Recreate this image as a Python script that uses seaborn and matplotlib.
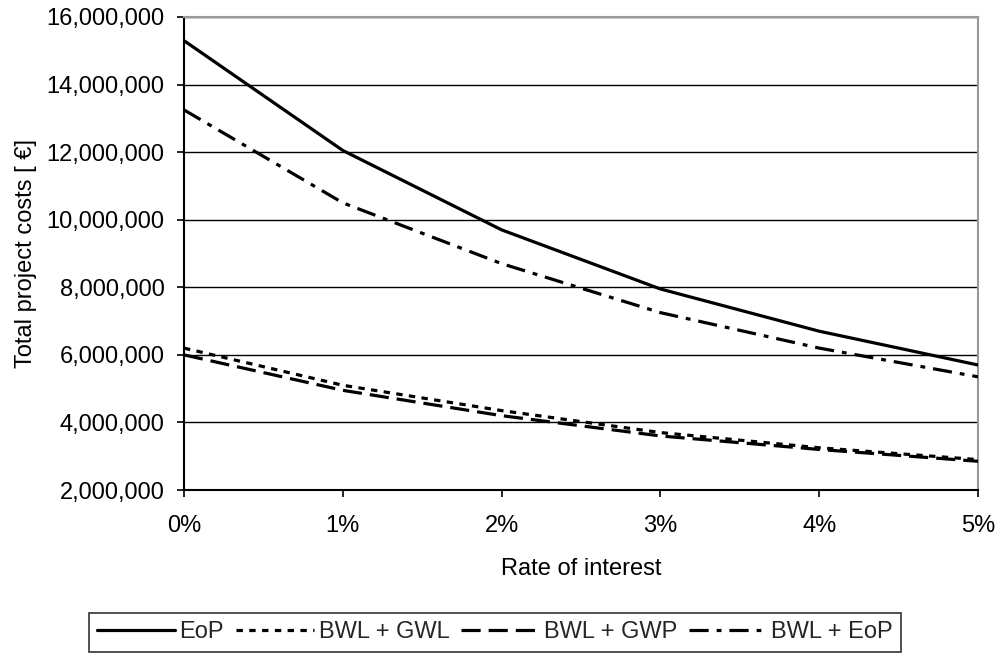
import matplotlib.pyplot as plt
import matplotlib.ticker as mticker
import pandas as pd
import seaborn as sns

# Total project costs per rate of interest
rates = [0, 1, 2, 3, 4, 5]
eop = [15300000, 12050000, 9700000, 7950000, 6700000, 5700000]
bwl_gwl = [6200000, 5100000, 4350000, 3700000, 3250000, 2900000]
bwl_gwp = [6000000, 4950000, 4200000, 3600000, 3200000, 2850000]
bwl_eop = [13250000, 10500000, 8700000, 7250000, 6200000, 5350000]

series_names = ["EoP", "BWL + GWL", "BWL + GWP", "BWL + EoP"]
y_ticks = [2000000, 4000000, 6000000, 8000000, 10000000, 12000000, 14000000, 16000000]
x_ticks = [0, 1, 2, 3, 4, 5]
x_labels = ["0%", "1%", "2%", "3%", "4%", "5%"]

df = pd.DataFrame({"rate": rates, "EoP": eop, "BWL + GWL": bwl_gwl,
                   "BWL + GWP": bwl_gwp, "BWL + EoP": bwl_eop})
df_long = df.melt(id_vars="rate", var_name="series", value_name="cost")

sns.set_theme(style="white")
plt.rcParams["font.family"] = ["Liberation Sans", "DejaVu Sans"]
FS = 17

fig = plt.figure(figsize=(9.99, 6.57), dpi=100)
ax = fig.add_axes([184 / 999, 1 - 490 / 657, (978 - 184) / 999, (490 - 17) / 657])

dash_map = {
    "EoP": "",
    "BWL + GWL": (2, 2),
    "BWL + GWP": (6, 2.5),
    "BWL + EoP": (6, 2.5, 1.5, 2.5),
}

sns.lineplot(
    data=df_long, x="rate", y="cost", hue="series", style="series",
    hue_order=series_names, style_order=series_names,
    palette={k: "black" for k in series_names},
    dashes=dash_map, linewidth=2.3, markers=False, ax=ax, zorder=3,
)

ax.set_xlim(0, 5)
ax.set_ylim(2000000, 16000000)
ax.set_xticks(x_ticks)
ax.set_xticklabels(x_labels)
ax.set_yticks(y_ticks)
ax.yaxis.set_major_formatter(mticker.StrMethodFormatter("{x:,.0f}"))
ax.grid(axis="y", color="black", linewidth=1, zorder=1)
ax.tick_params(axis="both", labelsize=FS, colors="black", length=5, direction="out",
               left=True, bottom=True, width=1.2)
ax.tick_params(axis="y", pad=9)
ax.tick_params(axis="x", pad=13)
for side in ["top", "right"]:
    ax.spines[side].set_color("#999999")
    ax.spines[side].set_linewidth(1.5)
for side in ["left", "bottom"]:
    ax.spines[side].set_color("black")
    ax.spines[side].set_linewidth(1.5)

ax.set_xlabel("Rate of interest", fontsize=FS, color="black", labelpad=15)
ax.set_ylabel("Total project costs [ €]", fontsize=FS, color="black", labelpad=7)

handles, labels = ax.get_legend_handles_labels()
leg = ax.legend(
    handles, labels, loc="upper center", bbox_to_anchor=(0.4955, 1 - 613 / 657),
    bbox_transform=fig.transFigure,
    ncol=4, frameon=True, fancybox=False, edgecolor="black", fontsize=FS,
    handlelength=3.3, handletextpad=0.2, columnspacing=0.5, borderpad=0.35,
    borderaxespad=0,
)
leg.get_frame().set_linewidth(1.2)

fig.savefig("out.png", dpi=100, facecolor="white")
